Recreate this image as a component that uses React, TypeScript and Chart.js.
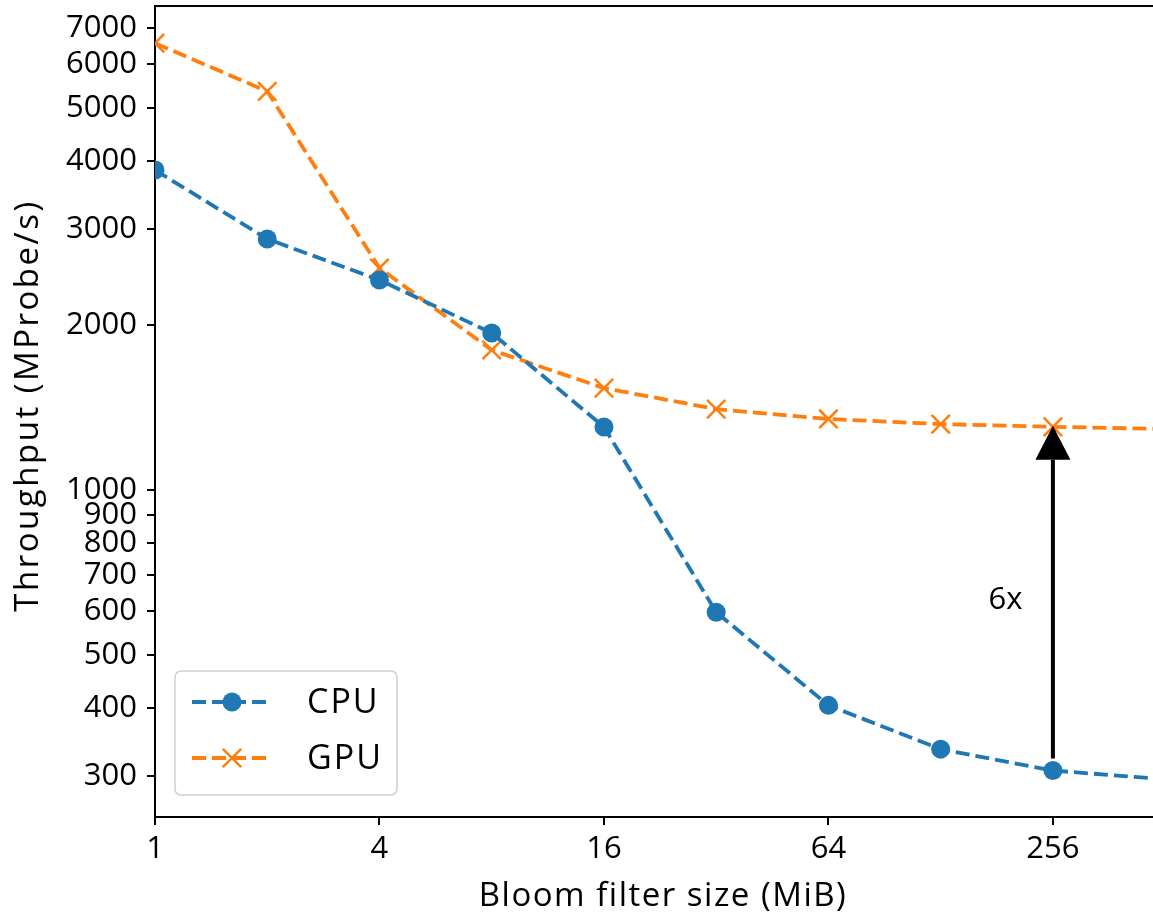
import React, { useEffect, useRef } from 'react';
import { Chart, registerables } from 'chart.js';

Chart.register(...registerables);

// ---- data ----
const sizes = [1, 2, 4, 8, 16, 32, 64, 128, 256, 512];
const cpuThroughput = [3846, 2878, 2421, 1937, 1304, 598, 404, 336, 307, 296];
const gpuThroughput = [6562, 5357, 2546, 1803, 1536, 1406, 1349, 1320, 1305, 1293];
const seriesLabels = ['CPU', 'GPU'];
const xTicks = [1, 4, 16, 64, 256];
const yTicks = [300, 400, 500, 600, 700, 800, 900, 1000, 2000, 3000, 4000, 5000, 6000, 7000];
const xRange = [1, 475];
const yRange = [252.5, 7673];
const xTitle = 'Bloom filter size (MiB)';
const yTitle = 'Throughput (MProbe/s)';
const speedupLabel = '6x';
const speedupAt = 256;
const speedupLabelPos = [191, 630];

const BLUE = '#1f77b4';
const ORANGE = '#ff7f0e';
const FAMILY = '"Open Sans", Lato, sans-serif';
const TICK_SIZE = 31;
const TITLE_SIZE = 33;
const LEGEND_SIZE = 34;
const DASH = [14, 6];

function drawMarker(ctx: CanvasRenderingContext2D, style: string, x: number, y: number, r: number, color: string, lw: number) {
  ctx.save();
  ctx.setLineDash([]);
  if (style === 'circle') {
    ctx.fillStyle = color;
    ctx.beginPath();
    ctx.arc(x, y, r, 0, Math.PI * 2);
    ctx.fill();
  } else {
    const d = r * Math.SQRT1_2;
    ctx.strokeStyle = color;
    ctx.lineWidth = lw;
    ctx.beginPath();
    ctx.moveTo(x - d, y - d);
    ctx.lineTo(x + d, y + d);
    ctx.moveTo(x - d, y + d);
    ctx.lineTo(x + d, y - d);
    ctx.stroke();
  }
  ctx.restore();
}

const overlayPlugin = {
  id: 'overlay',
  afterDatasetsDraw(chart: any) {
    const { ctx, chartArea, scales } = chart;
    const xs = scales.x;
    const ys = scales.y;
    ctx.save();
    // top spine
    ctx.strokeStyle = '#000';
    ctx.lineWidth = 2;
    ctx.beginPath();
    ctx.moveTo(chartArea.left, chartArea.top);
    ctx.lineTo(chartArea.right, chartArea.top);
    ctx.stroke();

    // arrow
    const i = sizes.indexOf(speedupAt);
    const ax = xs.getPixelForValue(speedupAt);
    const yTail = ys.getPixelForValue(cpuThroughput[i]) - 12;
    const yTip = ys.getPixelForValue(gpuThroughput[i]) - 1;
    const headLen = 34;
    const headW = 35;
    ctx.strokeStyle = '#000';
    ctx.fillStyle = '#000';
    ctx.lineWidth = 4;
    ctx.beginPath();
    ctx.moveTo(ax, yTail);
    ctx.lineTo(ax, yTip + headLen);
    ctx.stroke();
    ctx.beginPath();
    ctx.moveTo(ax, yTip);
    ctx.lineTo(ax - headW / 2, yTip + headLen);
    ctx.lineTo(ax + headW / 2, yTip + headLen);
    ctx.closePath();
    ctx.fill();

    // label
    ctx.font = `${TICK_SIZE}px ${FAMILY}`;
    ctx.textAlign = 'center';
    ctx.textBaseline = 'middle';
    ctx.fillText(speedupLabel, xs.getPixelForValue(speedupLabelPos[0]), ys.getPixelForValue(speedupLabelPos[1]));
    ctx.restore();
  },
  afterDraw(chart: any) {
    const { ctx, chartArea } = chart;

    // axis titles
    ctx.save();
    ctx.fillStyle = '#000';
    ctx.font = `${TITLE_SIZE}px ${FAMILY}`;
    ctx.textAlign = 'center';
    ctx.textBaseline = 'alphabetic';
    (ctx as any).letterSpacing = '1.5px';
    ctx.fillText(xTitle, (chartArea.left + chartArea.right) / 2 + 9, chartArea.bottom + 89);
    ctx.translate(38, (chartArea.top + chartArea.bottom) / 2 - 6);
    ctx.rotate(-Math.PI / 2);
    (ctx as any).letterSpacing = '2.5px';
    ctx.fillText(yTitle, 0, 0);
    ctx.restore();

    // legend
    const bx = chartArea.left + 20;
    const by = chartArea.bottom - 146;
    const bw = 222;
    const bh = 124;
    ctx.save();
    ctx.beginPath();
    if ((ctx as any).roundRect) (ctx as any).roundRect(bx, by, bw, bh, 6);
    else ctx.rect(bx, by, bw, bh);
    ctx.fillStyle = 'rgba(255,255,255,0.85)';
    ctx.fill();
    ctx.strokeStyle = '#cfcfcf';
    ctx.lineWidth = 1.5;
    ctx.stroke();

    chart.data.datasets.forEach((ds: any, k: number) => {
      const ry = by + 31 + k * 56;
      ctx.strokeStyle = ds.borderColor;
      ctx.lineWidth = ds.borderWidth;
      ctx.setLineDash(DASH);
      ctx.beginPath();
      ctx.moveTo(bx + 17, ry);
      ctx.lineTo(bx + 97, ry);
      ctx.stroke();
      ctx.setLineDash([]);
      drawMarker(ctx, ds.pointStyle, bx + 57, ry, ds.pointRadius, ds.pointBorderColor, ds.pointBorderWidth);
      ctx.fillStyle = '#000';
      ctx.font = `${LEGEND_SIZE}px ${FAMILY}`;
      (ctx as any).letterSpacing = '2px';
      ctx.textAlign = 'left';
      ctx.textBaseline = 'middle';
      ctx.fillText(ds.label, bx + 132, ry + 1);
      (ctx as any).letterSpacing = '0px';
    });
    ctx.restore();
  },
};

function zeroPad(scale: any) {
  scale.paddingTop = 0;
  scale.paddingBottom = 0;
  scale.paddingLeft = 0;
  scale.paddingRight = 0;
}

export default function App() {
  const ref = useRef<HTMLCanvasElement>(null);
  useEffect(() => {
    if (!ref.current) return;
    const chart = new Chart(ref.current, {
      type: 'line',
      data: {
        datasets: [
          {
            label: seriesLabels[0],
            data: sizes.map((s, i) => ({ x: s, y: cpuThroughput[i] })),
            borderColor: BLUE,
            backgroundColor: BLUE,
            borderWidth: 3.8,
            borderDash: DASH,
            pointStyle: 'circle',
            pointRadius: 9.5,
            pointBackgroundColor: BLUE,
            pointBorderColor: BLUE,
            pointBorderWidth: 0,
            fill: false,
            tension: 0,
            clip: 0,
          },
          {
            label: seriesLabels[1],
            data: sizes.map((s, i) => ({ x: s, y: gpuThroughput[i] })),
            borderColor: ORANGE,
            backgroundColor: ORANGE,
            borderWidth: 3.8,
            borderDash: DASH,
            pointStyle: 'crossRot',
            pointRadius: 13,
            pointBackgroundColor: ORANGE,
            pointBorderColor: ORANGE,
            pointBorderWidth: 2.5,
            fill: false,
            tension: 0,
            clip: 0,
          },
        ],
      } as any,
      options: {
        animation: false,
        responsive: false,
        maintainAspectRatio: false,
        events: [],
        layout: { autoPadding: false, padding: { top: 6, left: 0, right: 0, bottom: 0 } },
        plugins: {
          legend: { display: false },
          tooltip: { enabled: false },
          title: { display: false },
        },
        scales: {
          x: {
            type: 'logarithmic',
            min: xRange[0],
            max: xRange[1],
            bounds: 'data',
            afterBuildTicks: (scale: any) => {
              scale.ticks = xTicks.map((v) => ({ value: v }));
            },
            afterFit: (scale: any) => {
              scale.height = 99;
              zeroPad(scale);
            },
            ticks: {
              autoSkip: false,
              maxRotation: 0,
              minRotation: 0,
              padding: 6,
              color: '#000',
              font: { family: FAMILY, size: TICK_SIZE },
              callback: (v: any) => String(v),
            },
            grid: {
              drawOnChartArea: false,
              drawTicks: true,
              tickLength: 8,
              color: '#000',
              lineWidth: 2,
            },
            border: { display: true, color: '#000', width: 2 },
            title: { display: false, text: xTitle },
          },
          y: {
            type: 'logarithmic',
            min: yRange[0],
            max: yRange[1],
            bounds: 'data',
            afterBuildTicks: (scale: any) => {
              scale.ticks = yTicks.map((v) => ({ value: v }));
            },
            afterFit: (scale: any) => {
              scale.width = 155;
              zeroPad(scale);
            },
            ticks: {
              autoSkip: false,
              padding: 10,
              color: '#000',
              font: { family: FAMILY, size: TICK_SIZE },
              callback: (v: any) => String(v),
            },
            grid: {
              drawOnChartArea: false,
              drawTicks: true,
              tickLength: 8,
              color: '#000',
              lineWidth: 2,
            },
            border: { display: true, color: '#000', width: 2 },
            title: { display: false, text: yTitle },
          },
        },
      } as any,
      plugins: [overlayPlugin],
    });
    return () => chart.destroy();
  }, []);

  return (
    <div style={{ position: 'absolute', left: 0, top: 0, width: 1153, height: 916, background: '#fff' }}>
      <canvas ref={ref} width={1153} height={916} style={{ width: 1153, height: 916, display: 'block' }} />
    </div>
  );
}
